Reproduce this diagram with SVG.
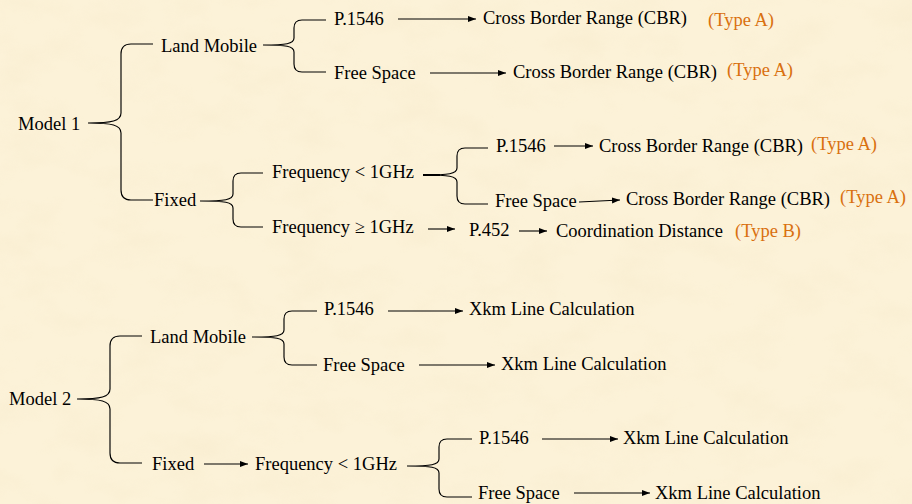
<svg xmlns="http://www.w3.org/2000/svg" width="912" height="504" viewBox="0 0 912 504">
<defs>
<style>
text{font-family:"Liberation Serif","Times New Roman",serif;font-size:18.5px;fill:#000}
text.ty{fill:#D9700F}
.br{fill:none;stroke:#000;stroke-width:1.15}
.ar{fill:none;stroke:#000;stroke-width:1.1;marker-end:url(#ah)}
</style>
<marker id="ah" markerUnits="userSpaceOnUse" markerWidth="9" markerHeight="7" refX="8" refY="3.5" orient="auto">
<path d="M0,0.5 L8,3.5 L0,6.5 z" fill="#000"/>
</marker>
<filter id="paper" x="0" y="0" width="100%" height="100%">
<feTurbulence type="fractalNoise" baseFrequency="0.018 0.03" numOctaves="4" seed="7"/>
<feColorMatrix type="matrix" values="0 0 0 0 0.90  0 0 0 0 0.79  0 0 0 0 0.56  1.6 0 0 0 -0.7"/>
</filter>
</defs>
<rect width="912" height="504" fill="#FCF2D8"/>
<rect width="912" height="504" filter="url(#paper)" opacity="0.38"/>

<g id="connectors">
<!-- Model 1 braces -->
<path class="br" d="M153 44 H131 Q121 44 121 54 V113 C121 121 112 123 88 123 C112 123 121 125 121 133 V190 Q121 200 131 200 H153"/>
<path class="br" d="M326 20 H302 Q294 20 294 28 V38 C294 44 286 45 263 45 C286 45 294 46 294 52 V64 Q294 72 302 72 H326"/>
<path class="br" d="M263 173 H241 Q233 173 233 181 V194 C233 200 225 201 200 201 C225 201 233 202 233 208 V219 Q233 227 241 227 H263"/>
<path class="br" d="M488 148 H465 Q457 148 457 156 V168 C457 174 449 175 423 175 C449 175 457 176 457 182 V196 Q457 204 465 204 H488"/>
<line x1="423" y1="175" x2="440" y2="175" stroke="#000" stroke-width="2"/>
<!-- Model 1 arrows -->
<line class="ar" x1="398" y1="19" x2="476" y2="19"/>
<line class="ar" x1="430" y1="73" x2="506" y2="73"/>
<line class="ar" x1="554" y1="146" x2="593" y2="146"/>
<line class="ar" x1="579" y1="202" x2="620" y2="200"/>
<line class="ar" x1="428" y1="229" x2="455" y2="229"/>
<line class="ar" x1="519" y1="231" x2="547" y2="231"/>
<!-- Model 2 braces -->
<path class="br" d="M142 336 H120 Q110 336 110 346 V389 C110 397 101 399 77 399 C101 399 110 401 110 409 V453 Q110 463 120 463 H142"/>
<path class="br" d="M317 311 H292 Q284 311 284 319 V330 C284 336 276 337 252 337 C276 337 284 338 284 344 V357 Q284 365 292 365 H317"/>
<path class="br" d="M472 439 H447 Q439 439 439 447 V459 C439 465 431 466 407 466 C431 466 439 467 439 473 V489 Q439 497 447 497 H472"/>
<!-- Model 2 arrows -->
<line class="ar" x1="388" y1="311" x2="463" y2="311"/>
<line class="ar" x1="419" y1="365" x2="495" y2="365"/>
<line class="ar" x1="204" y1="464" x2="248" y2="464"/>
<line class="ar" x1="542" y1="439" x2="618" y2="439"/>
<line class="ar" x1="574" y1="493" x2="650" y2="493"/>
</g>

<g id="m1"><text x="18" y="130">Model 1</text></g>
<g id="m1-lm"><text x="161" y="52">Land Mobile</text></g>
<g id="m1-lm-p1546"><text x="334" y="25">P.1546</text></g>
<g id="m1-lm-fs"><text x="334" y="79">Free Space</text></g>
<g id="m1-cbr1"><text x="483" y="24">Cross Border Range (CBR)</text><text class="ty" x="708" y="26">(Type A)</text></g>
<g id="m1-cbr2"><text x="513" y="78">Cross Border Range (CBR)</text><text class="ty" x="727" y="76">(Type A)</text></g>
<g id="m1-fx"><text x="154" y="206">Fixed</text></g>
<g id="m1-f-lt"><text x="272" y="178">Frequency &lt; 1GHz</text></g>
<g id="m1-f-ge"><text x="272" y="233">Frequency ≥ 1GHz</text></g>
<g id="m1-f-p1546"><text x="496" y="152">P.1546</text></g>
<g id="m1-cbr3"><text x="599" y="152">Cross Border Range (CBR)</text><text class="ty" x="811" y="150">(Type A)</text></g>
<g id="m1-f-fs"><text x="495" y="207">Free Space</text></g>
<g id="m1-cbr4"><text x="626" y="205">Cross Border Range (CBR)</text><text class="ty" x="840" y="203">(Type A)</text></g>
<g id="m1-p452"><text x="469" y="236">P.452</text></g>
<g id="m1-cd"><text x="556" y="237">Coordination Distance</text><text class="ty" x="735" y="237">(Type B)</text></g>

<g id="m2"><text x="9" y="405">Model 2</text></g>
<g id="m2-lm"><text x="150" y="343">Land Mobile</text></g>
<g id="m2-lm-p1546"><text x="324" y="315">P.1546</text></g>
<g id="m2-lm-fs"><text x="323" y="371">Free Space</text></g>
<g id="m2-x1"><text x="469" y="315">Xkm Line Calculation</text></g>
<g id="m2-x2"><text x="501" y="370">Xkm Line Calculation</text></g>
<g id="m2-fx"><text x="152" y="470">Fixed</text></g>
<g id="m2-f-lt"><text x="255" y="470">Frequency &lt; 1GHz</text></g>
<g id="m2-f-p1546"><text x="479" y="444">P.1546</text></g>
<g id="m2-x3"><text x="623" y="444">Xkm Line Calculation</text></g>
<g id="m2-f-fs"><text x="478" y="499">Free Space</text></g>
<g id="m2-x4"><text x="655" y="499">Xkm Line Calculation</text></g>
</svg>
